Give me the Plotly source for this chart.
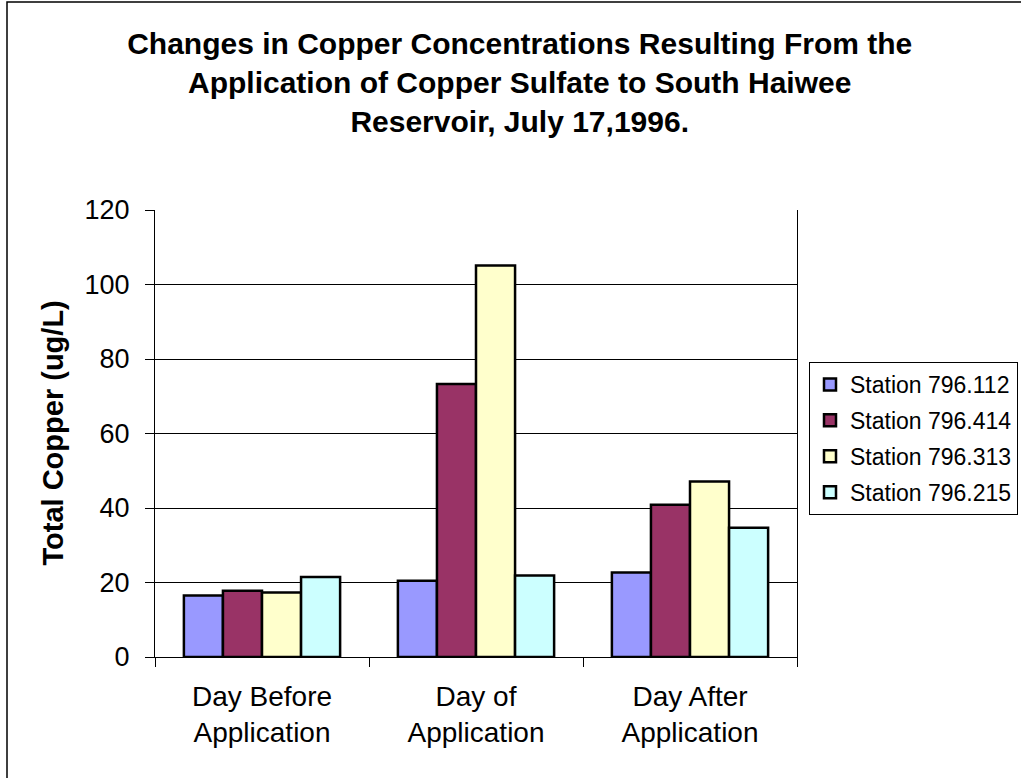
import plotly.graph_objects as go

# ─── DATA ─────────────────────────────────────────────────────
CATEGORIES = ["Day Before<br>Application", "Day of<br>Application", "Day After<br>Application"]
STATIONS = ["Station 796.112", "Station 796.414", "Station 796.313", "Station 796.215"]
ST_112 = [16.5, 20.5, 22.7]
ST_414 = [17.8, 73.3, 40.9]
ST_313 = [17.3, 105.1, 47.1]
ST_215 = [21.5, 21.9, 34.7]
Y_TICKS = [0, 20, 40, 60, 80, 100, 120]

COLORS = ["#9999FF", "#993366", "#FFFFCC", "#CCFFFF"]
FONT = "Liberation Sans, Arial, sans-serif"

fig = go.Figure()
for name, vals, col in zip(STATIONS, [ST_112, ST_414, ST_313, ST_215], COLORS):
    fig.add_trace(go.Bar(
        x=CATEGORIES, y=vals, name=name, legendgroup=name,
        marker=dict(color=col, line=dict(color="black", width=2.5)),
    ))

# plot area at x 155..797, y 210..657 of a 1021x778 page
fig.update_layout(
    width=1021, height=778,
    paper_bgcolor="white", plot_bgcolor="white",
    font=dict(family=FONT, color="black", size=28),
    margin=dict(l=155, r=224, t=210, b=121, autoexpand=False),
    barmode="group", bargap=0.27, bargroupgap=0,
    title=dict(
        text="Changes in Copper Concentrations Resulting From the<br>"
             "Application of Copper Sulfate to South Haiwee<br>Reservoir, July 17,1996.",
        x=0.509, xanchor="center", y=1 - 54 / 778, yanchor="top",
        font=dict(family=FONT, size=30, color="black", weight="bold"),
    ),
    xaxis=dict(
        showline=True, linecolor="black", linewidth=1,
        ticks="outside", tickson="boundaries", ticklen=9, tickcolor="black",
        showgrid=False, tickfont=dict(size=28), ticklabelstandoff=14,
    ),
    yaxis=dict(
        range=[0, 120], tickvals=Y_TICKS,
        showline=True, mirror=True, linecolor="black", linewidth=1,
        ticks="outside", ticklen=9, tickcolor="black",
        showgrid=True, gridcolor="black", gridwidth=1, zeroline=False,
        tickfont=dict(size=27), ticklabelstandoff=10,
    ),
    legend=dict(
        x=(809 - 155) / 642, xanchor="left", y=(657 - 362) / 447, yanchor="top",
        bordercolor="black", borderwidth=1, bgcolor="white",
        font=dict(size=23), tracegroupgap=3,
    ),
    annotations=[dict(
        text="<b>Total Copper (ug/L)</b>", textangle=-90,
        xref="paper", yref="paper", x=(52 - 155) / 642, y=0.5,
        xanchor="center", yanchor="middle", showarrow=False,
        font=dict(size=29),
    )],
    shapes=[dict(
        type="rect", xref="paper", yref="paper", layer="below",
        x0=(7 - 155) / 642, x1=(1030 - 155) / 642,
        y0=(657 - 790) / 447, y1=(657 - 2) / 447,
        line=dict(color="black", width=1.5),
    )],
)

fig.write_html("out.html", config={"displayModeBar": False},
               post_script="document.body.style.margin='0px';")
